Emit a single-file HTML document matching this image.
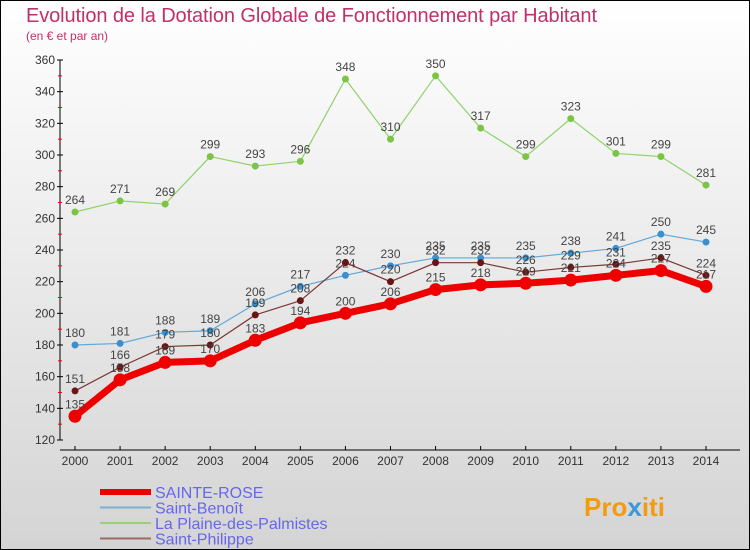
<!DOCTYPE html>
<html><head><meta charset="utf-8"><style>
body{margin:0;width:750px;height:550px;overflow:hidden}
svg{display:block;font-family:"Liberation Sans",sans-serif}
</style></head><body>
<svg id="c" width="750" height="550">
<defs><linearGradient id="bg" x1="0" y1="0" x2="0" y2="1"><stop offset="0" stop-color="#ffffff"/><stop offset="1" stop-color="#d4d4d4"/></linearGradient></defs>
<rect x="0.5" y="0.5" width="749" height="549" fill="url(#bg)" stroke="#000"/>
<text x="26" y="22" font-size="20" fill="#c0306a" textLength="571">Evolution de la Dotation Globale de Fonctionnement par Habitant</text>
<text x="26" y="40" font-size="12" fill="#c0306a">(en € et par an)</text>
<g id="axes"></g><g id="series"></g><g id="legend"></g>
<text x="584" y="516" font-size="26" font-weight="bold" fill="#f39c12">Pro<tspan fill="#3a9ad9">x</tspan>iti</text>
</svg>
<script>
const years=[2000,2001,2002,2003,2004,2005,2006,2007,2008,2009,2010,2011,2012,2013,2014];
const yTicks=[120,140,160,180,200,220,240,260,280,300,320,340,360];
const sainteRose=[135,158,169,170,183,194,200,206,215,218,219,221,224,227,217];
const saintBenoit=[180,181,188,189,206,217,224,230,235,235,235,238,241,250,245];
const plaine=[264,271,269,299,293,296,348,310,350,317,299,323,301,299,281];
const saintPhilippe=[151,166,179,180,199,208,232,220,232,232,226,229,231,235,224];
const NS="http://www.w3.org/2000/svg";
const X=i=>75+i*(706-75)/(years.length-1);
const Y=v=>440-(v-120)*(380/240);
function mk(t,a,p){const e=document.createElementNS(NS,t);for(const k in a)e.setAttribute(k,a[k]);p.appendChild(e);return e;}
const ax=document.getElementById('axes');
let yl=mk('line',{x1:60,y1:60,x2:60,y2:440,stroke:'#000'},ax);


let xl=mk('line',{x1:60,y1:450,x2:740,y2:450,stroke:'#000'},ax);


yTicks.forEach((v,i)=>{
 mk('line',{x1:57,y1:Y(v),x2:63,y2:Y(v),stroke:'#000'},ax);
 if(i<yTicks.length-1)mk('line',{x1:58,y1:Y(v+10),x2:62,y2:Y(v+10),stroke:'#e00'},ax);
 const t=mk('text',{x:55,y:Y(v)+4,'text-anchor':'end','font-size':12,fill:'#333'},ax);t.textContent=v;
 
 
});
years.forEach((y,i)=>{
 mk('line',{x1:X(i),y1:446,x2:X(i),y2:450,stroke:'#000'},ax);
 const t=mk('text',{x:X(i),y:465,'text-anchor':'middle','font-size':12,fill:'#333'},ax);t.textContent=y;
 
 
});
const sg=document.getElementById('series');
function draw(data,color,w,r,name,pc){
 const g=mk('g',{},sg);
 
 
 mk('polyline',{points:data.map((v,i)=>X(i)+','+Y(v)).join(' '),fill:'none',stroke:color,'stroke-width':w,'stroke-linejoin':'round'},g);
 data.forEach((v,i)=>{
  const c=mk('circle',{cx:X(i),cy:Y(v),r:r,fill:pc},g);
  
  
  const t=mk('text',{x:X(i),y:Y(v)-8,'text-anchor':'middle','font-size':12,fill:'#444'},g);t.textContent=v;
  
  
 });
}
draw(plaine,'#8fd16a',1.2,3.5,'la-plaine-des-palmistes','#7cc444');
draw(saintBenoit,'#5fa8d8',1.2,3.5,'saint-benoit','#3a8fd0');
draw(saintPhilippe,'#7a3535',1.2,3.5,'saint-philippe','#6a1515');
draw(sainteRose,'#ee0000',7,6.5,'sainte-rose','#ee0000');
const lg=document.getElementById('legend');
[['SAINTE-ROSE','#ee0000',6],['Saint-Benoît','#7ab0d0',2],['La Plaine-des-Palmistes','#9ad07a',2],['Saint-Philippe','#9a6a6a',2]].forEach((d,i)=>{
 const y=492+i*15.5;
 const g=mk('g',{},lg);
 
 
 mk('line',{x1:100,y1:y,x2:151,y2:y,stroke:d[1],'stroke-width':d[2]},g);
 const t=mk('text',{x:155,y:y+6,'font-size':16,fill:'#6666ee'},g);t.textContent=d[0];
});
</script>
</body></html>
